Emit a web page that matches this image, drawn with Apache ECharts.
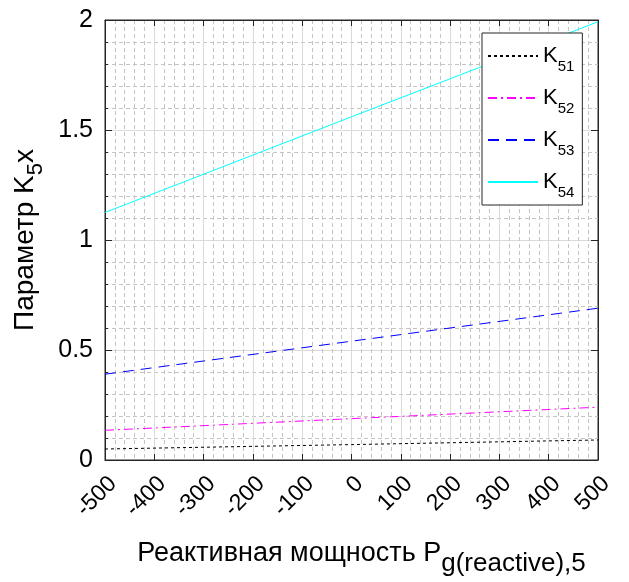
<!DOCTYPE html>
<html>
<head>
<meta charset="utf-8">
<script src="https://cdn.jsdelivr.net/npm/echarts@6/dist/echarts.min.js"></script>
<style>
  html, body { margin: 0; padding: 0; background: #fff; }
  #chart { width: 629px; height: 582px; }
</style>
</head>
<body>
<div id="chart"></div>
<script>
// Reactive power values (x) and the K5x coefficients read at those points
const xValues = [-500, 0, 500];
const k51 = [0.05, 0.07, 0.091];
const k52 = [0.135, 0.188, 0.24];
const k53 = [0.39, 0.54, 0.69];
const k54 = [1.125, 1.56, 1.992];

const seriesNames = ['K51', 'K52', 'K53', 'K54'];
const xTicks = [-500, -400, -300, -200, -100, 0, 100, 200, 300, 400, 500];
const yTicks = [0, 0.5, 1, 1.5, 2];

const FONT = 'Liberation Sans, Arial, sans-serif';
const INK = '#262626';

const pairs = (ys) => xValues.map((x, i) => [x, ys[i]]);

const chart = echarts.init(document.getElementById('chart'), null, { renderer: 'canvas' });

const gridLine = { show: true, lineStyle: { color: '#dadada', width: 1, type: 'solid' } };
const minorLine = { show: true, lineStyle: { color: '#c4c4c4', width: 1, type: [4, 3] } };

const option = {
  animation: false,
  backgroundColor: '#ffffff',
  grid: {
    left: 105, right: 31, top: 20, bottom: 122,
    outerBoundsMode: 'none', containLabel: false,
    show: true, borderColor: INK, borderWidth: 1, backgroundColor: '#fff'
  },
  legend: {
    data: seriesNames,
    orient: 'vertical',
    left: 482, top: 33,
    backgroundColor: '#ffffff',
    borderColor: INK, borderWidth: 1, borderRadius: 0,
    padding: [12, 8, 5, 5],
    itemWidth: 50, itemHeight: 14, itemGap: 13,
    itemStyle: { opacity: 0, borderWidth: 0 },
    formatter: (name) => '{k|K}{s|' + name.slice(1) + '}',
    textStyle: {
      fontFamily: FONT, color: '#000',
      rich: {
        k: { fontFamily: FONT, fontSize: 22, lineHeight: 22, color: '#000', verticalAlign: 'top', padding: [0, 0, 0, 0] },
        s: { fontFamily: FONT, fontSize: 15, lineHeight: 15, color: '#000', verticalAlign: 'top', padding: [14, 0, 0, 0] }
      }
    }
  },
  xAxis: [{
    type: 'value', min: xTicks[0], max: xTicks[xTicks.length - 1], interval: 100,
    axisLine: { show: true, onZero: false, lineStyle: { color: INK } },
    axisTick: { show: true, inside: true, length: 6, lineStyle: { color: INK } },
    minorTick: { show: false, splitNumber: 5 },
    splitLine: gridLine,
    minorSplitLine: minorLine,
    axisLabel: {
      rotate: 45, fontFamily: FONT, fontSize: 23, color: '#000', margin: 12,
      align: 'right', verticalAlign: 'top'
    },
    name: '{a|Реактивная мощность P}{s|g(reactive),5}',
    nameLocation: 'middle', nameGap: 80,
    nameTextStyle: {
      padding: [0, 0, 0, 20],
      rich: {
        a: { fontFamily: FONT, fontSize: 27, lineHeight: 27, color: '#000', verticalAlign: 'top' },
        s: { fontFamily: FONT, fontSize: 26, lineHeight: 26, color: '#000', verticalAlign: 'top', padding: [11, 0, 0, 0] }
      }
    }
  }, {
    type: 'value', position: 'top', min: -500, max: 500, interval: 100,
    axisLine: { show: true, onZero: false, lineStyle: { color: INK } },
    axisTick: { show: true, inside: true, length: 6, lineStyle: { color: INK } },
    axisLabel: { show: false }, splitLine: { show: false }
  }],
  yAxis: [{
    type: 'value', min: yTicks[0], max: yTicks[yTicks.length - 1], interval: 0.5,
    axisLine: { show: true, onZero: false, lineStyle: { color: INK } },
    axisTick: { show: true, inside: true, length: 7, lineStyle: { color: INK } },
    minorTick: { show: true, splitNumber: 5, length: 3, lineStyle: { color: INK } },
    splitLine: gridLine,
    minorSplitLine: minorLine,
    axisLabel: { fontFamily: FONT, fontSize: 25, color: '#000', margin: 12 },
    name: '{a|Параметр K}{s|5}{a|x}',
    nameLocation: 'middle', nameGap: 49, nameRotate: 90,
    nameTextStyle: {
      rich: {
        a: { fontFamily: FONT, fontSize: 28, lineHeight: 28, color: '#000', verticalAlign: 'top' },
        s: { fontFamily: FONT, fontSize: 22, lineHeight: 22, color: '#000', verticalAlign: 'top', padding: [14, 0, 0, 0] }
      }
    }
  }, {
    type: 'value', position: 'right', min: 0, max: 2, interval: 0.5,
    axisLine: { show: true, onZero: false, lineStyle: { color: INK } },
    axisTick: { show: true, inside: true, length: 7, lineStyle: { color: INK } },
    axisLabel: { show: false }, splitLine: { show: false }
  }],
  series: [
    { name: 'K51', type: 'line', data: pairs(k51), symbol: 'none', z: 3,
      lineStyle: { color: '#000000', width: 1, type: [3, 3] }, itemStyle: { color: '#000000' } },
    { name: 'K52', type: 'line', data: pairs(k52), symbol: 'none', z: 3,
      lineStyle: { color: '#ff00ff', width: 1, type: [9, 4, 2, 4] }, itemStyle: { color: '#ff00ff' } },
    { name: 'K53', type: 'line', data: pairs(k53), symbol: 'none', z: 3,
      lineStyle: { color: '#0000ff', width: 1, type: [11, 7] }, itemStyle: { color: '#0000ff' } },
    { name: 'K54', type: 'line', data: pairs(k54), symbol: 'none', z: 3,
      lineStyle: { color: '#00ffff', width: 1, type: 'solid' }, itemStyle: { color: '#00ffff' } }
  ]
};

chart.setOption(option);
</script>
</body>
</html>
